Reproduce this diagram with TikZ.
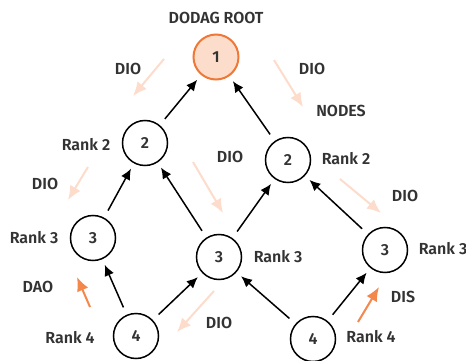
\documentclass[tikz,border=0pt]{standalone}
\usepackage{fontspec}
\setmainfont{Fira Sans}[BoldFont={Fira Sans SemiBold}]
\usetikzlibrary{arrows.meta}
\pgfdeclarelayer{edgelayer}
\pgfdeclarelayer{nodelayer}
\pgfsetlayers{edgelayer,nodelayer,main}
\definecolor{labelgrey}{HTML}{333333}
\definecolor{rootfill}{HTML}{FCDCCB}
\definecolor{rootdraw}{HTML}{F07837}
\definecolor{msgpale}{HTML}{FDDCCB}
\definecolor{msgorange}{HTML}{F4874B}
\tikzstyle{none}=[inner sep=0pt,text=labelgrey,font=\fontsize{16}{19}\selectfont\bfseries]
\tikzstyle{rank_node}=[circle,draw=black,line width=1.5pt,minimum size=45pt,inner sep=0pt,text=labelgrey,font=\fontsize{16}{19}\selectfont\bfseries]
\tikzstyle{root_node}=[rank_node,draw=rootdraw,fill=rootfill,line width=2pt]
\tikzstyle{parent_link}=[-{Latex[length=11pt,width=10pt]},draw=black,line width=1.5pt,shorten <=8pt,shorten >=6pt]
\tikzstyle{pale_msg}=[-{Latex[length=14pt,width=12pt]},draw=msgpale,line width=2pt]
\tikzstyle{orange_msg}=[pale_msg,draw=msgorange]

\begin{document}
\begin{tikzpicture}[x=1pt,y=-1pt]
	\useasboundingbox (0,0) rectangle (466,361);
	\begin{pgfonlayer}{nodelayer}
		\node [style={root_node}] (1) at (216, 57) {1};
		\node [style={rank_node}] (2) at (145, 143) {2};
		\node [style={rank_node}] (3) at (288, 160) {2};
		\node [style={rank_node}] (4) at (93, 238) {3};
		\node [style={rank_node}] (5) at (219, 257) {3};
		\node [style={rank_node}] (6) at (385, 250) {3};
		\node [style={rank_node}] (7) at (136, 336) {4};
		\node [style={rank_node}] (8) at (313, 339) {4};
		\node [style=none] (9) at (216, 18) {DODAG ROOT};
		\node [style=none] (10) at (128, 69) {DIO};
		\node [style=none] (11) at (312, 69) {DIO};
		\node [style=none] (12) at (341, 111) {NODES};
		\node [style=none] (13) at (86, 145) {Rank 2};
		\node [style=none] (14) at (45, 184) {DIO};
		\node [style=none] (15) at (230, 157) {DIO};
		\node [style=none] (16) at (346, 159) {Rank 2};
		\node [style=none] (17) at (405, 196) {DIO};
		\node [style=none] (18) at (34, 238) {Rank 3};
		\node [style=none] (19) at (278, 257) {Rank 3};
		\node [style=none] (20) at (443, 249) {Rank 3};
		\node [style=none] (21) at (38, 287) {DAO};
		\node [style=none] (22) at (403, 297) {DIS};
		\node [style=none] (23) at (70, 338) {Rank 4};
		\node [style=none] (24) at (219, 323) {DIO};
		\node [style=none] (25) at (371, 337) {Rank 4};
	\end{pgfonlayer}
	\begin{pgfonlayer}{edgelayer}
		\draw [style=parent_link] (2) to (1);
		\draw [style=parent_link] (3) to (1);
		\draw [style=parent_link] (4) to (2);
		\draw [style=parent_link] (5) to (2);
		\draw [style=parent_link] (5) to (3);
		\draw [style=parent_link] (6) to (3);
		\draw [style=parent_link] (7) to (4);
		\draw [style=parent_link] (7) to (5);
		\draw [style=parent_link] (8) to (5);
		\draw [style=parent_link] (8) to (6);
		% message arrows
		\coordinate (m0) at (164, 59);
		\coordinate (m1) at (133, 96);
		\coordinate (m2) at (274, 60);
		\coordinate (m3) at (303, 107);
		\coordinate (m4) at (88, 167);
		\coordinate (m5) at (68, 200);
		\coordinate (m6) at (193, 162);
		\coordinate (m7) at (223, 213);
		\coordinate (m8) at (340, 179);
		\coordinate (m9) at (381, 213);
		\coordinate (m10) at (214, 291);
		\coordinate (m11) at (177, 332);
		\coordinate (m12) at (90, 307);
		\coordinate (m13) at (77, 277);
		\coordinate (m14) at (358, 322);
		\coordinate (m15) at (379, 287);
		\draw [style=pale_msg] (m0) to (m1);
		\draw [style=pale_msg] (m2) to (m3);
		\draw [style=pale_msg] (m4) to (m5);
		\draw [style=pale_msg] (m6) to (m7);
		\draw [style=pale_msg] (m8) to (m9);
		\draw [style=pale_msg] (m10) to (m11);
		\draw [style=orange_msg] (m12) to (m13);
		\draw [style=orange_msg] (m14) to (m15);
	\end{pgfonlayer}
\end{tikzpicture}
\end{document}
